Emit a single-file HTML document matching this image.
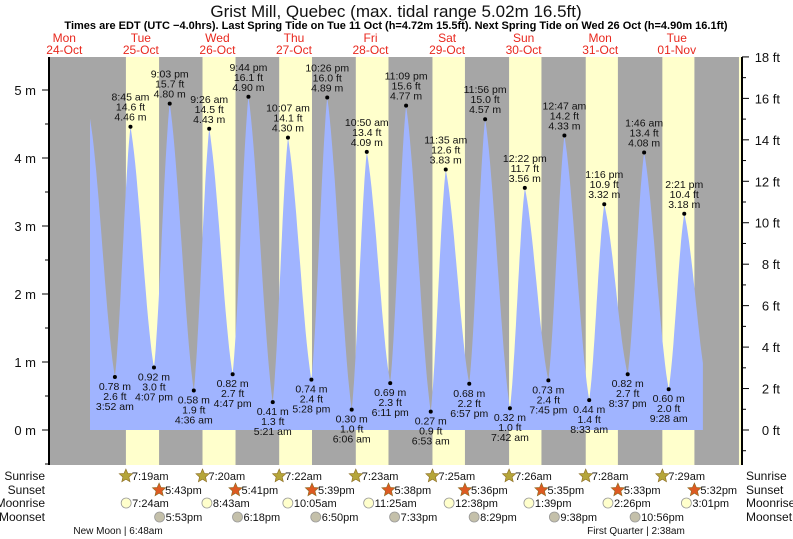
<!DOCTYPE html>
<html><head><meta charset="utf-8"><style>
body{margin:0;background:#fff;}
svg{display:block;font-family:"Liberation Sans",sans-serif;}
</style></head><body>
<svg id="c" width="793" height="539" viewBox="0 0 793 539" xmlns="http://www.w3.org/2000/svg"></svg>
<script>
// ---- data ----
const tideTimes = [20.05, 27.87, 32.75, 40.12, 45.05, 52.6, 57.43, 64.78, 69.73, 77.35, 82.12, 89.47, 94.43, 102.1, 106.83, 114.18, 119.15, 126.88, 131.58, 138.95, 143.93, 151.7, 156.37, 163.75, 168.78, 176.55, 181.27, 188.62, 193.77, 201.47, 206.35, 213.6];
const tideHeights = [4.58, 0.78, 4.46, 0.92, 4.80, 0.58, 4.43, 0.82, 4.90, 0.41, 4.30, 0.74, 4.89, 0.30, 4.09, 0.69, 4.77, 0.27, 3.83, 0.68, 4.57, 0.32, 3.56, 0.73, 4.33, 0.44, 3.32, 0.82, 4.08, 0.60, 3.18, 0.60];
const tideLabels = ["", "3:52 am", "8:45 am", "4:07 pm", "9:03 pm", "4:36 am", "9:26 am", "4:47 pm", "9:44 pm", "5:21 am", "10:07 am", "5:28 pm", "10:26 pm", "6:06 am", "10:50 am", "6:11 pm", "11:09 pm", "6:53 am", "11:35 am", "6:57 pm", "11:56 pm", "7:42 am", "12:22 pm", "7:45 pm", "12:47 am", "8:33 am", "1:16 pm", "8:37 pm", "1:46 am", "9:28 am", "2:21 pm", ""];
const dayNames = ["Mon","Tue","Wed","Thu","Fri","Sat","Sun","Mon","Tue"];
const dayDates = ["24-Oct","25-Oct","26-Oct","27-Oct","28-Oct","29-Oct","30-Oct","31-Oct","01-Nov"];
const sunrise = ["7:19am","7:20am","7:22am","7:23am","7:25am","7:26am","7:28am","7:29am"];
const sunset = ["5:43pm","5:41pm","5:39pm","5:38pm","5:36pm","5:35pm","5:33pm","5:32pm"];
const moonrise = ["7:24am","8:43am","10:05am","11:25am","12:38pm","1:39pm","2:26pm","3:01pm"];
const moonset = ["5:53pm","6:18pm","6:50pm","7:33pm","8:29pm","9:38pm","10:56pm"];
const nextSunrise = "7:30am";
const mTicks = [0,1,2,3,4,5];
const ftTicks = [0,2,4,6,8,10,12,14,16,18];
const endTime = 212.2;

// ---- scales ----
const X0 = 26, PXH = 3.19, PL = 49, PR = 742, PT = 57, PB = 465;
const x = t => X0 + t * PXH;
const y = m => 430 - m * 68;
const NS = "http://www.w3.org/2000/svg";
const svg = document.getElementById('c');
function el(tag, attrs, parent) {
  const e = document.createElementNS(NS, tag);
  for (const k in attrs) e.setAttribute(k, attrs[k]);
  (parent || svg).appendChild(e);
  return e;
}
function tm(s) {
  const m = s.match(/(\d+):(\d+)\s*(am|pm)/);
  let h = +m[1] % 12; if (m[3] === 'pm') h += 12;
  return h + (+m[2]) / 60;
}
function txt(s, xx, yy, attrs) {
  const t = el('text', Object.assign({x: xx, y: yy}, attrs || {}));
  t.textContent = s; return t;
}

// plot background
const bg = el('rect', {x: PL, y: PT, width: PR - PL, height: PB - PT, fill: '#a6a6a6'});


const clip = el('clipPath', {id: 'pc'});
el('rect', {x: PL, y: PT, width: PR - PL, height: PB - PT}, clip);
const g = el('g', {'clip-path': 'url(#pc)'});
for (let d = 0; d <= sunrise.length; d++) {
  const t0 = 24 * (d + 1) + tm(d < sunrise.length ? sunrise[d] : nextSunrise);
  const t1 = d < sunset.length ? 24 * (d + 1) + tm(sunset[d]) : t0 + 10;
  const r = el('rect', {x: x(t0), y: PT, width: x(t1) - x(t0), height: PB - PT, fill: '#ffffcc'}, g);
  
  
}
// tide area
function shape(k, n) { const s = k / n; return 0.45 * (1 - Math.cos(Math.PI * s)) / 2 + 0.55 * s; }
let pts = [[x(tideTimes[0]), y(0)]];
for (let i = 0; i < tideTimes.length - 1; i++) {
  const a = tideTimes[i], b = tideTimes[i + 1], ha = tideHeights[i], hb = tideHeights[i + 1];
  for (let k = 0; k <= 20; k++) {
    const t = a + (b - a) * k / 20;
    if (t > endTime) break;
    const f = shape(k, 20);
    pts.push([x(t), y(ha + (hb - ha) * f)]);
  }
}
{
  const i = tideTimes.findIndex(t => t > endTime) - 1;
  const a = tideTimes[i], b = tideTimes[i + 1];
  const f = shape(endTime - a, b - a);
  pts.push([x(endTime), y(tideHeights[i] + (tideHeights[i + 1] - tideHeights[i]) * f)]);
  pts.push([x(endTime), y(0)]);
}
const area = el('path', {d: 'M' + pts.map(p => p[0].toFixed(1) + ',' + p[1].toFixed(1)).join('L') + 'Z', fill: '#a0b4ff'}, g);



// tide point labels
for (let i = 1; i < tideTimes.length - 1; i++) {
  const t = tideTimes[i], h = tideHeights[i];
  if (t > endTime) continue;
  const px = x(t), py = y(h), high = h > 2;
  const grp = el('g', {'font-size': '10.5', fill: '#111', 'text-anchor': 'middle'});
  
  
  el('circle', {cx: px, cy: py, r: 2, fill: '#000'}, grp);
  const lines = [h.toFixed(2) + ' m', (h * 3.28084).toFixed(1) + ' ft', tideLabels[i]];
  if (high) {
    lines.forEach((s, j) => { const e = el('text', {x: px, y: py - 6 - j * 10}, grp); e.textContent = s; });
  } else {
    lines.forEach((s, j) => { const e = el('text', {x: px, y: py + 13 + j * 10}, grp); e.textContent = s; });
  }
}

// axes
const la = el('line', {x1: PL, y1: PT, x2: PL, y2: PB, stroke: '#000', 'stroke-width': 2});
 
const ra = el('line', {x1: PR, y1: PT, x2: PR, y2: PB, stroke: '#000', 'stroke-width': 2});
 
for (let m = -0.5; m <= 5.5; m += 0.5) {
  const yy = y(m); if (yy < PT || yy > PB) continue;
  el('line', {x1: PL - (Number.isInteger(m) ? 7 : 4), y1: yy, x2: PL, y2: yy, stroke: '#000'});
}
mTicks.forEach(m => {
  const t = txt(m + ' m', 36, y(m) + 5, {'font-size': '13', 'text-anchor': 'end', fill: '#111'});
   
});
for (let f = -1; f <= 18; f++) {
  const yy = y(f / 3.28084); if (yy < PT - 1 || yy > PB) continue;
  el('line', {x1: PR, y1: yy, x2: PR + (f % 2 === 0 ? 7 : 4), y2: yy, stroke: '#000'});
}
ftTicks.forEach(f => {
  const t = txt(f + ' ft', 780, y(f / 3.28084) + 5, {'font-size': '13', 'text-anchor': 'end', fill: '#111'});
   
});

// titles
const ti = txt('Grist Mill, Quebec (max. tidal range 5.02m 16.5ft)', 396, 17, {'font-size': '17', 'text-anchor': 'middle', fill: '#111'});
 
const st = txt('Times are EDT (UTC \u22124.0hrs). Last Spring Tide on Tue 11 Oct (h=4.72m 15.5ft). Next Spring Tide on Wed 26 Oct (h=4.90m 16.1ft)', 396, 29, {'font-size': '11', 'font-weight': 'bold', 'text-anchor': 'middle', fill: '#000'});
 
dayNames.forEach((d, i) => {
  const cx = x(24 * i + 12);
  const a = txt(d, cx, 42, {'font-size': '12', 'text-anchor': 'middle', fill: '#e8281e'});
   
  const b = txt(dayDates[i], cx, 54, {'font-size': '12', 'text-anchor': 'middle', fill: '#e8281e'});
   
});

// bottom rows
const rows = [['Sunrise', 480], ['Sunset', 494], ['Moonrise', 507], ['Moonset', 521]];
rows.forEach(r => {
  const a = txt(r[0], 45, r[1], {'font-size': '12', 'text-anchor': 'end', fill: '#111'});
   
  const b = txt(r[0], 746, r[1], {'font-size': '12', fill: '#111'});
   
});
function star(cx, cy, fill) {
  let p = [];
  for (let k = 0; k < 10; k++) {
    const r = k % 2 ? 3.2 : 7, a = -Math.PI / 2 + k * Math.PI / 5;
    p.push((cx + r * Math.cos(a)).toFixed(1) + ',' + (cy + r * Math.sin(a)).toFixed(1));
  }
  return el('polygon', {points: p.join(' '), fill: fill, stroke: '#8a6a20', 'stroke-width': 0.6});
}
function eventRow(arr, rowY, kind) {
  arr.forEach((s, i) => {
    const t = 24 * (i + 1) + tm(s);
    const cx = x(t);
    if (cx > PR - 10) return;
    let m;
    if (kind === 'sunrise') m = star(cx, rowY - 4, '#b5a53a');
    else if (kind === 'sunset') m = star(cx, rowY - 4, '#dd5a22');
    else m = el('circle', {cx: cx, cy: rowY - 4, r: 5, fill: kind === 'moonrise' ? '#ffffcc' : '#c4c0aa', stroke: '#999', 'stroke-width': 0.8});
    
    
    const tt = txt(s, cx + 6, rowY, {'font-size': '11', fill: '#111'});
    
    
  });
}
eventRow(sunrise, 480, 'sunrise');
eventRow(sunset, 494, 'sunset');
eventRow(moonrise, 507, 'moonrise');
eventRow(moonset, 521, 'moonset');
const p1 = txt('New Moon | 6:48am', 118, 534, {'font-size': '10', 'text-anchor': 'middle', fill: '#111'});
 
const p2 = txt('First Quarter | 2:38am', 636, 534, {'font-size': '10', 'text-anchor': 'middle', fill: '#111'});
 
</script>
</body></html>
